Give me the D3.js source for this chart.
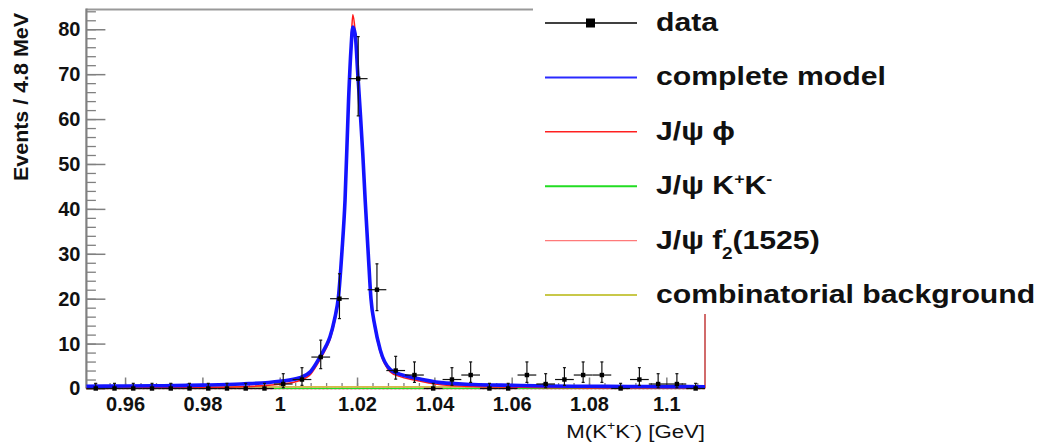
<!DOCTYPE html>
<html><head><meta charset="utf-8">
<script src="https://cdn.jsdelivr.net/npm/d3@7"></script>
<style>
body{margin:0;background:#fff;}
svg{display:block;font-family:"Liberation Sans",Arial,Helvetica,sans-serif;}
</style>
</head><body>
<svg id="c" width="1042" height="445"></svg>
<script>
// ---------------- data ----------------
const binCenters = [0.95242,0.95727,0.96212,0.96697,0.97182,0.97667,0.98152,0.98636,0.99121,0.99606,
  1.00091,1.00576,1.01061,1.01545,1.02030,1.02515,1.03000,1.03485,1.03970,1.04455,
  1.04939,1.05424,1.05909,1.06394,1.06879,1.07364,1.07848,1.08333,1.08818,1.09303,
  1.09788,1.10273,1.10758];
const binHalfWidth = 0.002424;
const counts = [0,0,0,0,0,0,0,0,0,0,1,2,7,20,69,22,4,3,0,2,3,0,0,3,1,2,3,3,0,2,1,1,0];
// asymmetric Poisson error bars (RooFit style)
const poissonN  = [0,1,2,3,4,7,20,22,69];
const poissonLo = [0,0.827,1.292,1.633,1.914,2.581,4.434,4.655,8.286];
const poissonHi = [1.148,2.299,2.637,2.918,3.162,3.770,5.546,5.760,9.361];

// complete model and J/psi phi component
const modelX = [0.950,0.960,0.970,0.980,0.990,1.000,1.0052,1.0080,1.0104,1.0120,
  1.0130,1.0142,1.0152,1.0161,1.0169,1.0178,1.0184,1.0189,1.0195,1.0202,
  1.0208,1.0215,1.0221,1.0229,1.0236,1.0246,1.0260,1.0286,1.0310,1.0348,
  1.0418,1.050,1.060,1.070,1.080,1.090,1.100,1.110];
const modelTotal = [0.5,0.55,0.62,0.75,1.0,1.6,2.4,3.8,7.0,9.5,
  11.5,15.5,20.5,30.5,42,64,75,80.5,79,70,
  62,52,42,30,20,14,8.6,4.2,3.2,2.4,
  1.3,0.9,0.7,0.55,0.5,0.45,0.42,0.4];
const modelPhi = [0.1,0.12,0.15,0.22,0.4,0.95,1.8,3.2,6.4,8.9,
  10.9,14.9,19.9,29.9,41.5,63.6,75.5,83.2,79.5,69.6,
  61.6,51.6,41.6,29.6,19.6,13.6,8.1,3.7,2.7,1.9,
  0.85,0.45,0.3,0.2,0.15,0.12,0.1,0.1];
const flatX = [0.95,1.00,1.05,1.11];
const modelComb = [0.38,0.36,0.34,0.32];
const modelKK = [0.03,0.05,0.05,0.04];
const modelF2 = [0.0,0.0,0.0,0.0];

const xTickValues = [0.96,0.98,1.0,1.02,1.04,1.06,1.08,1.1];
const xTickLabels = ["0.96","0.98","1","1.02","1.04","1.06","1.08","1.1"];
const yTickValues = [0,10,20,30,40,50,60,70,80];
const yTickLabels = ["0","10","20","30","40","50","60","70","80"];

const legendLabels = ["data","complete model","J/ψ ϕ","J/ψ K+K-","J/ψ f2'(1525)","combinatorial background"];
const legendColors = ["#000000","#2a2aff","#ff2020","#22dd22","#ff7a7a","#c8c84a"];

// ---------------- layout ----------------
const svg = d3.select("#c");
const X0 = 86.4, X1 = 705, Y0 = 388.5, Y1 = 9.5;
const x = d3.scaleLinear().domain([0.95, 1.11]).range([X0, X1]);
const y = d3.scaleLinear().domain([0, 84.4]).range([Y0, Y1]);
const axisColor = "#808080";

// frame
svg.append("line").attr("x1",X0).attr("x2",X1).attr("y1",Y1).attr("y2",Y1)
  .attr("stroke","#999").attr("stroke-width",2);
svg.append("line").attr("x1",X1).attr("x2",X1).attr("y1",Y1).attr("y2",Y0)
  .attr("stroke","#c23a3a").attr("stroke-width",1.5);

// y axis
const yMinor = d3.range(0, 85, 2);
svg.append("g").attr("transform",`translate(${X0},0)`)
  .call(d3.axisLeft(y).tickValues(yMinor).tickSize(-9.5).tickFormat(""))
  .call(g=>g.select(".domain").remove())
  .call(g=>g.selectAll("line").attr("stroke",axisColor).attr("stroke-width",1.3));
svg.append("g").attr("transform",`translate(${X0},0)`)
  .call(d3.axisLeft(y).tickValues(yTickValues).tickSize(-19).tickPadding(6)
        .tickFormat((d,i)=>yTickLabels[i]))
  .call(g=>g.select(".domain").remove())
  .call(g=>g.selectAll("line").attr("stroke",axisColor).attr("stroke-width",1.5))
  .call(g=>g.selectAll("text").attr("font-size",20).attr("font-weight","bold")
        .attr("fill","#111").attr("font-family","Liberation Sans, Arial, sans-serif"));

// x axis
const xMinor = d3.range(0.952, 1.1095, 0.004);
svg.append("g").attr("transform",`translate(0,${Y0})`)
  .call(d3.axisBottom(x).tickValues(xMinor).tickSize(-5.5).tickFormat(""))
  .call(g=>g.select(".domain").remove())
  .call(g=>g.selectAll("line").attr("stroke",axisColor).attr("stroke-width",1.3));
svg.append("g").attr("transform",`translate(0,${Y0})`)
  .call(d3.axisBottom(x).tickValues(xTickValues).tickSize(-11).tickPadding(8)
        .tickFormat((d,i)=>xTickLabels[i]))
  .call(g=>g.select(".domain").remove())
  .call(g=>g.selectAll("line").attr("stroke",axisColor).attr("stroke-width",1.5))
  .call(g=>g.selectAll("text").attr("font-size",20).attr("font-weight","bold")
        .attr("fill","#111").attr("font-family","Liberation Sans, Arial, sans-serif"));

svg.append("line").attr("x1",X0).attr("x2",X0).attr("y1",Y1-1).attr("y2",Y0)
  .attr("stroke",axisColor).attr("stroke-width",2.2);
svg.append("line").attr("x1",X0).attr("x2",X1).attr("y1",Y0).attr("y2",Y0)
  .attr("stroke",axisColor).attr("stroke-width",1.5);

// axis titles
svg.append("text").attr("transform","translate(27.5,181) rotate(-90)")
  .attr("font-size",19.5).attr("font-weight","bold").attr("fill","#111")
  .attr("textLength",168).attr("lengthAdjust","spacingAndGlyphs")
  .text("Events / 4.8 MeV");
const xt = svg.append("g").attr("transform","translate(705,438) scale(1.17,1)")
  .append("text").attr("text-anchor","end").attr("font-size",19).attr("fill","#111");
xt.append("tspan").text("M(K");
xt.append("tspan").attr("font-size",12).attr("dy",-8).text("+");
xt.append("tspan").attr("dy",8).text("K");
xt.append("tspan").attr("font-size",12).attr("dy",-8).text("-");
xt.append("tspan").attr("dy",8).text(") [GeV]");

// model curves
const lineFlat = d3.line().x((d,i)=>x(flatX[i])).y(d=>y(d));
const lineModel = d3.line().x((d,i)=>x(modelX[i])).y(d=>y(d)).curve(d3.curveMonotoneX);

svg.append("path").attr("d",lineFlat(modelF2)).attr("fill","none")
  .attr("stroke","#ff3030").attr("stroke-width",1.6).attr("stroke-dasharray","2,2");
svg.append("path").attr("d",lineFlat(modelKK)).attr("fill","none")
  .attr("stroke","#22dd22").attr("stroke-width",1.2);
svg.append("path").attr("d",lineFlat(modelComb)).attr("fill","none")
  .attr("stroke","#d8b84a").attr("stroke-width",1.8);
svg.append("path").attr("d",lineModel(modelPhi)).attr("fill","none")
  .attr("stroke","#ff1a1a").attr("stroke-width",1.6);
svg.append("path").attr("d",lineModel(modelTotal)).attr("fill","none")
  .attr("stroke","#1414ff").attr("stroke-width",3.6).attr("stroke-linejoin","round");

// data points
const dataG = svg.append("g").attr("stroke","#111").attr("stroke-width",1.2);
counts.forEach((n,i)=>{
  const k = poissonN.indexOf(n);
  const cx = x(binCenters[i]), cy = y(n);
  const lo = y(n - poissonLo[k]), hi = y(n + poissonHi[k]);
  dataG.append("line").attr("x1",x(binCenters[i]-binHalfWidth)).attr("x2",x(binCenters[i]+binHalfWidth))
    .attr("y1",cy).attr("y2",cy);
  dataG.append("line").attr("x1",cx).attr("x2",cx).attr("y1",hi).attr("y2",lo);
  dataG.append("line").attr("x1",cx-1.5).attr("x2",cx+1.5).attr("y1",hi).attr("y2",hi);
  if (n>0) dataG.append("line").attr("x1",cx-1.5).attr("x2",cx+1.5).attr("y1",lo).attr("y2",lo);
  dataG.append("rect").attr("x",cx-2.2).attr("y",cy-2.2).attr("width",4.4).attr("height",4.4)
    .attr("fill","#000").attr("stroke","none");
});

// legend
svg.append("rect").attr("x",533).attr("y",0).attr("width",509).attr("height",314).attr("fill","#fff");
const lg = svg.append("g");
legendLabels.forEach((lab,i)=>{
  const base = 31 + 54.4*i, ly = base - 8;
  lg.append("line").attr("x1",545).attr("x2",637).attr("y1",ly).attr("y2",ly)
    .attr("stroke",legendColors[i]).attr("stroke-width", i===0?1.6:(i===2||i===4?1.4:2));
  if (i===0) lg.append("rect").attr("x",586).attr("y",ly-4.5).attr("width",9).attr("height",9).attr("fill","#000");
  const t = lg.append("g").attr("transform",`translate(656,${base}) scale(1.185,1)`)
    .append("text").attr("font-size",25.5).attr("font-weight","bold").attr("fill","#111");
  if (i===3){
    t.append("tspan").text("J/ψ K");
    t.append("tspan").attr("font-size",15).attr("dy",-10).text("+");
    t.append("tspan").attr("dy",10).text("K");
    t.append("tspan").attr("font-size",15).attr("dy",-10).text("-");
  } else if (i===4){
    t.append("tspan").text("J/ψ f");
    t.append("tspan").attr("font-size",15).attr("dy",-10).text("'");
    t.append("tspan").attr("font-size",16).attr("dx",-4).attr("dy",20).text("2");
    t.append("tspan").attr("dy",-10).text("(1525)");
  } else {
    t.text(lab);
  }
});
</script>
</body></html>
